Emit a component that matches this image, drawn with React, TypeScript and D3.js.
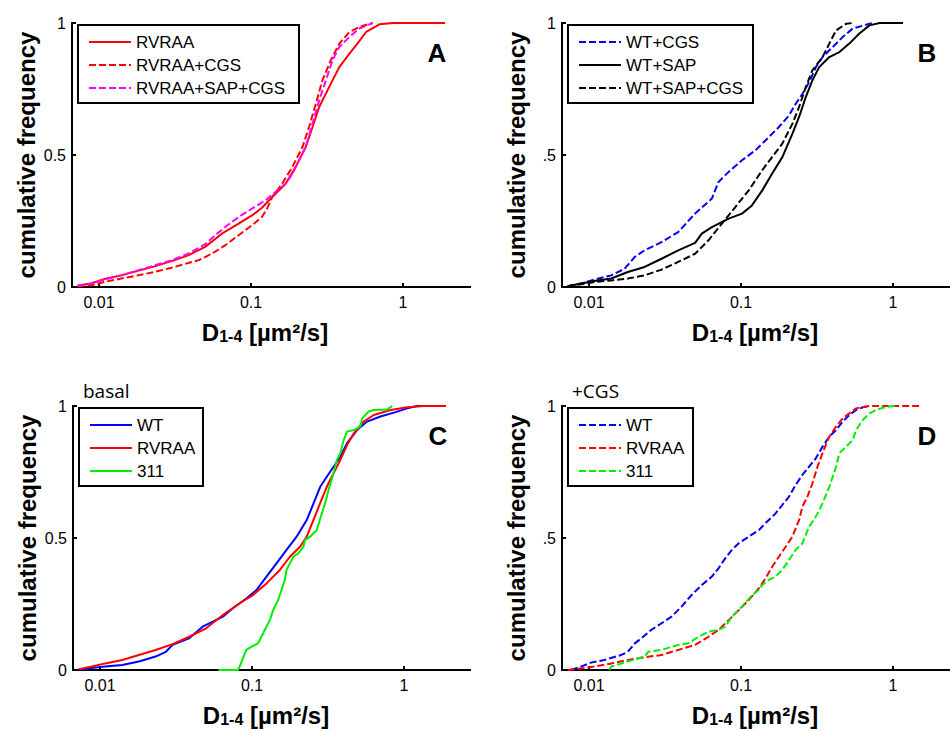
import * as d3 from 'd3'

const width = 950,
      height = 731,
      font = '"Liberation Sans", Arial, sans-serif'

// tick values for every panel
const xTicks = [0.01, 0.1, 1]
const xTickLabels = ['0.01', '0.1', '1']
const yTicks = [0, 0.5, 1]

// cumulative distributions: [D (um^2/s), cumulative frequency]
const rvraa = [[0.00723,0.006],[0.00885,0.013],[0.0108,0.03],[0.014,0.044],[0.018,0.061],[0.0232,0.078],[0.030,0.098],[0.0386,0.12],[0.0499,0.152],[0.0643,0.202],[0.0829,0.24],[0.1015,0.271],[0.118,0.30],[0.138,0.341],[0.169,0.391],[0.197,0.455],[0.229,0.53],[0.254,0.606],[0.281,0.682],[0.327,0.758],[0.381,0.833],[0.444,0.884],[0.491,0.915],[0.572,0.966],[0.70,0.995],[0.86,1.0],[1.89,1.0]]
const rvraaCgs = [[0.00723,0.003],[0.00885,0.006],[0.0108,0.019],[0.014,0.032],[0.018,0.044],[0.0232,0.057],[0.030,0.073],[0.0386,0.091],[0.045,0.101],[0.0552,0.126],[0.0676,0.158],[0.0829,0.196],[0.1015,0.234],[0.118,0.265],[0.1276,0.297],[0.138,0.341],[0.160,0.391],[0.187,0.455],[0.218,0.53],[0.241,0.606],[0.267,0.694],[0.295,0.783],[0.335,0.859],[0.381,0.922],[0.444,0.966],[0.516,0.985],[0.633,1.0]]
const rvraaSapCgs = [[0.00723,0.004],[0.00885,0.013],[0.0108,0.028],[0.014,0.044],[0.018,0.063],[0.0232,0.082],[0.030,0.101],[0.0386,0.126],[0.0499,0.162],[0.0581,0.196],[0.0676,0.227],[0.0829,0.265],[0.1015,0.297],[0.1245,0.328],[0.145,0.36],[0.169,0.391],[0.187,0.429],[0.207,0.48],[0.229,0.53],[0.254,0.619],[0.281,0.707],[0.311,0.783],[0.344,0.859],[0.381,0.909],[0.444,0.947],[0.516,0.979],[0.633,1.0]]

const wtCgs = [[0.00723,0.003],[0.00885,0.013],[0.0108,0.028],[0.014,0.044],[0.0171,0.069],[0.020,0.114],[0.0232,0.139],[0.030,0.17],[0.0386,0.208],[0.0499,0.278],[0.0643,0.335],[0.0711,0.398],[0.0829,0.436],[0.1015,0.48],[0.1245,0.518],[0.1525,0.568],[0.1774,0.606],[0.207,0.65],[0.229,0.694],[0.254,0.732],[0.281,0.777],[0.311,0.833],[0.344,0.871],[0.401,0.909],[0.467,0.947],[0.543,0.979],[0.70,0.997],[0.74,1.0]]
const wtSap = [[0.00723,0.003],[0.00885,0.013],[0.0108,0.023],[0.014,0.032],[0.018,0.057],[0.0232,0.076],[0.030,0.107],[0.0386,0.139],[0.0499,0.167],[0.0552,0.202],[0.0643,0.227],[0.0829,0.259],[0.1015,0.278],[0.118,0.309],[0.138,0.366],[0.160,0.429],[0.187,0.492],[0.218,0.581],[0.241,0.644],[0.267,0.72],[0.295,0.783],[0.327,0.833],[0.381,0.871],[0.444,0.89],[0.516,0.922],[0.601,0.96],[0.70,0.991],[0.816,1.0],[1.164,1.0]]
const wtSapCgs = [[0.00723,0.003],[0.00885,0.01],[0.0108,0.019],[0.014,0.025],[0.018,0.032],[0.0232,0.044],[0.030,0.066],[0.0386,0.095],[0.0499,0.126],[0.0611,0.177],[0.0748,0.24],[0.0917,0.303],[0.1124,0.366],[0.1377,0.442],[0.160,0.492],[0.187,0.543],[0.218,0.619],[0.241,0.682],[0.267,0.758],[0.295,0.821],[0.344,0.871],[0.381,0.922],[0.422,0.972],[0.491,0.997],[0.543,1.0]]

const wtBasal = [[0.00723,0.0],[0.0082,0.006],[0.0108,0.013],[0.014,0.019],[0.018,0.032],[0.0232,0.051],[0.0271,0.069],[0.030,0.095],[0.0386,0.12],[0.0473,0.164],[0.0552,0.183],[0.0643,0.202],[0.0748,0.234],[0.0917,0.271],[0.107,0.303],[0.1245,0.354],[0.1449,0.404],[0.1687,0.455],[0.1966,0.505],[0.2291,0.568],[0.254,0.631],[0.281,0.694],[0.3105,0.732],[0.344,0.77],[0.381,0.808],[0.422,0.859],[0.491,0.909],[0.572,0.941],[0.70,0.96],[0.859,0.975],[1.05,0.991],[1.22,1.0],[1.89,1.0]]
const rvraaBasal = [[0.00723,0.003],[0.00885,0.013],[0.0108,0.025],[0.014,0.038],[0.018,0.057],[0.0232,0.076],[0.030,0.098],[0.0386,0.126],[0.0499,0.158],[0.0643,0.208],[0.0829,0.253],[0.1015,0.284],[0.1245,0.328],[0.1525,0.379],[0.1774,0.429],[0.207,0.467],[0.229,0.505],[0.2535,0.568],[0.2805,0.631],[0.3105,0.694],[0.344,0.745],[0.381,0.795],[0.422,0.852],[0.467,0.896],[0.543,0.941],[0.633,0.966],[0.816,0.985],[1.05,0.995],[1.355,1.0],[1.89,1.0]]
const m311Basal = [[0.0601,0],[0.0808,0.0],[0.0829,0.013],[0.0917,0.076],[0.1015,0.091],[0.1096,0.101],[0.1153,0.126],[0.1214,0.152],[0.1309,0.189],[0.1377,0.227],[0.1486,0.265],[0.1563,0.303],[0.1644,0.341],[0.1687,0.379],[0.1774,0.404],[0.1869,0.429],[0.2017,0.442],[0.2178,0.467],[0.2234,0.492],[0.241,0.505],[0.2667,0.53],[0.2877,0.593],[0.3027,0.631],[0.3185,0.682],[0.3436,0.745],[0.3614,0.795],[0.381,0.821],[0.401,0.871],[0.422,0.903],[0.467,0.909],[0.516,0.922],[0.53,0.953],[0.586,0.979],[0.633,0.985],[0.776,0.987],[0.838,1.0]]

const wtPlusCgs = [[0.0076,0],[0.00885,0.013],[0.0103,0.028],[0.0126,0.038],[0.0163,0.057],[0.018,0.069],[0.020,0.101],[0.0221,0.12],[0.0257,0.152],[0.030,0.177],[0.0349,0.202],[0.0406,0.24],[0.0473,0.284],[0.0552,0.322],[0.0643,0.354],[0.0711,0.385],[0.0787,0.423],[0.0871,0.455],[0.0966,0.48],[0.1124,0.505],[0.1309,0.53],[0.1449,0.556],[0.1687,0.593],[0.1869,0.625],[0.207,0.657],[0.229,0.701],[0.2535,0.739],[0.2805,0.77],[0.3105,0.802],[0.344,0.846],[0.381,0.884],[0.422,0.909],[0.467,0.941],[0.516,0.966],[0.572,0.985],[0.633,0.995],[0.70,1.0]]
const rvraaPlusCgs = [[0.00723,0],[0.00885,0.006],[0.0108,0.013],[0.014,0.025],[0.018,0.038],[0.0232,0.048],[0.030,0.057],[0.0386,0.076],[0.0499,0.095],[0.0611,0.126],[0.0711,0.152],[0.0829,0.189],[0.0966,0.227],[0.1124,0.265],[0.1309,0.309],[0.1449,0.347],[0.1603,0.391],[0.1774,0.429],[0.1966,0.467],[0.2178,0.505],[0.241,0.568],[0.2535,0.619],[0.2735,0.657],[0.2951,0.707],[0.3185,0.77],[0.3436,0.821],[0.381,0.884],[0.422,0.922],[0.467,0.953],[0.516,0.972],[0.572,0.991],[0.70,1.0],[1.54,1.0]]
const m311PlusCgs = [[0.0136,0],[0.014,0.013],[0.018,0.032],[0.0232,0.051],[0.0245,0.069],[0.030,0.076],[0.0386,0.095],[0.045,0.101],[0.0525,0.126],[0.0611,0.145],[0.0711,0.152],[0.0787,0.164],[0.0871,0.202],[0.1015,0.24],[0.1183,0.284],[0.1309,0.303],[0.1377,0.322],[0.1525,0.341],[0.1687,0.354],[0.1869,0.379],[0.207,0.417],[0.229,0.455],[0.2535,0.48],[0.2805,0.543],[0.3105,0.581],[0.3436,0.631],[0.381,0.694],[0.422,0.77],[0.4436,0.821],[0.491,0.846],[0.543,0.871],[0.572,0.909],[0.633,0.947],[0.70,0.972],[0.776,0.985],[0.904,0.997],[1.05,1.0]]

const dash = '7,3'

const panels = [
  { letter: 'A', x0: 72, top: 23, bottom: 287, right: 470, legendW: 221, yLabels: ['0', '0.5', '1'], note: '',
    series: [
      { name: 'RVRAA', data: rvraa, color: '#ff0000', dashed: false },
      { name: 'RVRAA+CGS', data: rvraaCgs, color: '#ff0000', dashed: true },
      { name: 'RVRAA+SAP+CGS', data: rvraaSapCgs, color: '#ff00ff', dashed: true },
    ] },
  { letter: 'B', x0: 562, top: 23, bottom: 287, right: 960, legendW: 185, yLabels: ['0', '.5', '1'], note: '',
    series: [
      { name: 'WT+CGS', data: wtCgs, color: '#0000ff', dashed: true },
      { name: 'WT+SAP', data: wtSap, color: '#000000', dashed: false },
      { name: 'WT+SAP+CGS', data: wtSapCgs, color: '#000000', dashed: true },
    ] },
  { letter: 'C', x0: 73, top: 406, bottom: 670, right: 470, legendW: 124, yLabels: ['0', '0.5', '1'], note: 'basal',
    series: [
      { name: 'WT', data: wtBasal, color: '#0000ff', dashed: false },
      { name: 'RVRAA', data: rvraaBasal, color: '#ff0000', dashed: false },
      { name: '311', data: m311Basal, color: '#00ee00', dashed: false },
    ] },
  { letter: 'D', x0: 562, top: 406, bottom: 670, right: 960, legendW: 125, yLabels: ['0', '.5', '1'], note: '+CGS',
    series: [
      { name: 'WT', data: wtPlusCgs, color: '#0000ff', dashed: true },
      { name: 'RVRAA', data: rvraaPlusCgs, color: '#ff0000', dashed: true },
      { name: '311', data: m311PlusCgs, color: '#00ee00', dashed: true },
    ] },
]

const Panel = ({ p }: { p: any }) => {
  // log x axis: 0.1 sits 179px right of the y axis, one decade is 152px
  const x = d3.scaleLog()
    .domain([10 ** -2.178, 10 ** 0.441])
    .range([p.x0, p.x0 + 398])
  const y = d3.scaleLinear()
    .domain([0, 1])
    .range([p.bottom, p.top])
  const line = d3.line<number[]>()
    .x(d => x(d[0]))
    .y(d => y(d[1]))

  const lx = p.x0 + 6, ly = p.top + 2

  return (
    <g>
      {p.note && <text x={p.x0 + 10} y={p.top - 8} fontFamily='"Open Sans", sans-serif' fontSize='19'>{p.note}</text>}

      <g className='axes' stroke='black' strokeWidth='2'>
        <line x1={p.x0} y1={p.top} x2={p.x0} y2={p.bottom} strokeLinecap='square' />
        <line x1={p.x0} y1={p.bottom} x2={p.right} y2={p.bottom} strokeLinecap='square' />
        {yTicks.map(t =>
          <line key={t} x1={p.x0} x2={p.x0 + 4} y1={y(t)} y2={y(t)} />
        )}
        {xTicks.map(t =>
          <line key={t} x1={x(t)} x2={x(t)} y1={p.bottom} y2={p.bottom - 4} />
        )}
      </g>

      {/* curves go over the axis lines, like in the original */}
      <g className='curves'>
        {p.series.map((s: any) =>
          <path key={s.name} d={line(s.data) || ''} fill='none' stroke={s.color} strokeWidth='2'
            strokeDasharray={s.dashed ? dash : undefined} strokeLinejoin='round' />
        )}
      </g>

      <g fontFamily={font} fontSize='16'>
        {yTicks.map((t, i) =>
          <text key={t} x={p.x0 - 6} y={y(t) + 6} textAnchor='end'>{p.yLabels[i]}</text>
        )}
        {xTicks.map((t, i) =>
          <text key={t} x={x(t)} y={p.bottom + 21} textAnchor='middle'>{xTickLabels[i]}</text>
        )}
      </g>

      <text transform={`translate(${p.x0 - 37}, ${(p.top + p.bottom) / 2}) rotate(-90)`}
        textAnchor='middle' fontFamily={font} fontWeight='bold' fontSize='24'>cumulative frequency</text>

      <text x={p.x0 + 193} y={p.bottom + 54} textAnchor='middle' fontFamily={font} fontWeight='bold' fontSize='24'>
        D<tspan fontSize='16' dy='1'>1-4</tspan><tspan dy='-1'> [µm²/s]</tspan>
      </text>

      <text x={p.x0 + 365} y={p.top + 39} textAnchor='middle' fontFamily={font} fontWeight='bold' fontSize='26'>{p.letter}</text>

      <g className='legend'>
        <rect x={lx} y={ly} width={p.legendW} height='78' fill='white' stroke='black' strokeWidth='2' />
        {p.series.map((s: any, i: number) =>
          <g key={s.name} transform={`translate(${lx}, ${ly + 17 + i * 23})`}>
            <line x1='11' x2='53' y1='0' y2='0' stroke={s.color} strokeWidth='2'
              strokeDasharray={s.dashed ? dash : undefined} />
            <text x='58' y='6' fontFamily={font} fontSize='17'>{s.name}</text>
          </g>
        )}
      </g>
    </g>
  )
}

export default function App() {
  return (
    <svg width={width} height={height} style={{ position: 'absolute', left: 0, top: 0, background: '#fff' }}>
      {panels.map(p => <Panel key={p.letter} p={p} />)}
    </svg>
  )
}
